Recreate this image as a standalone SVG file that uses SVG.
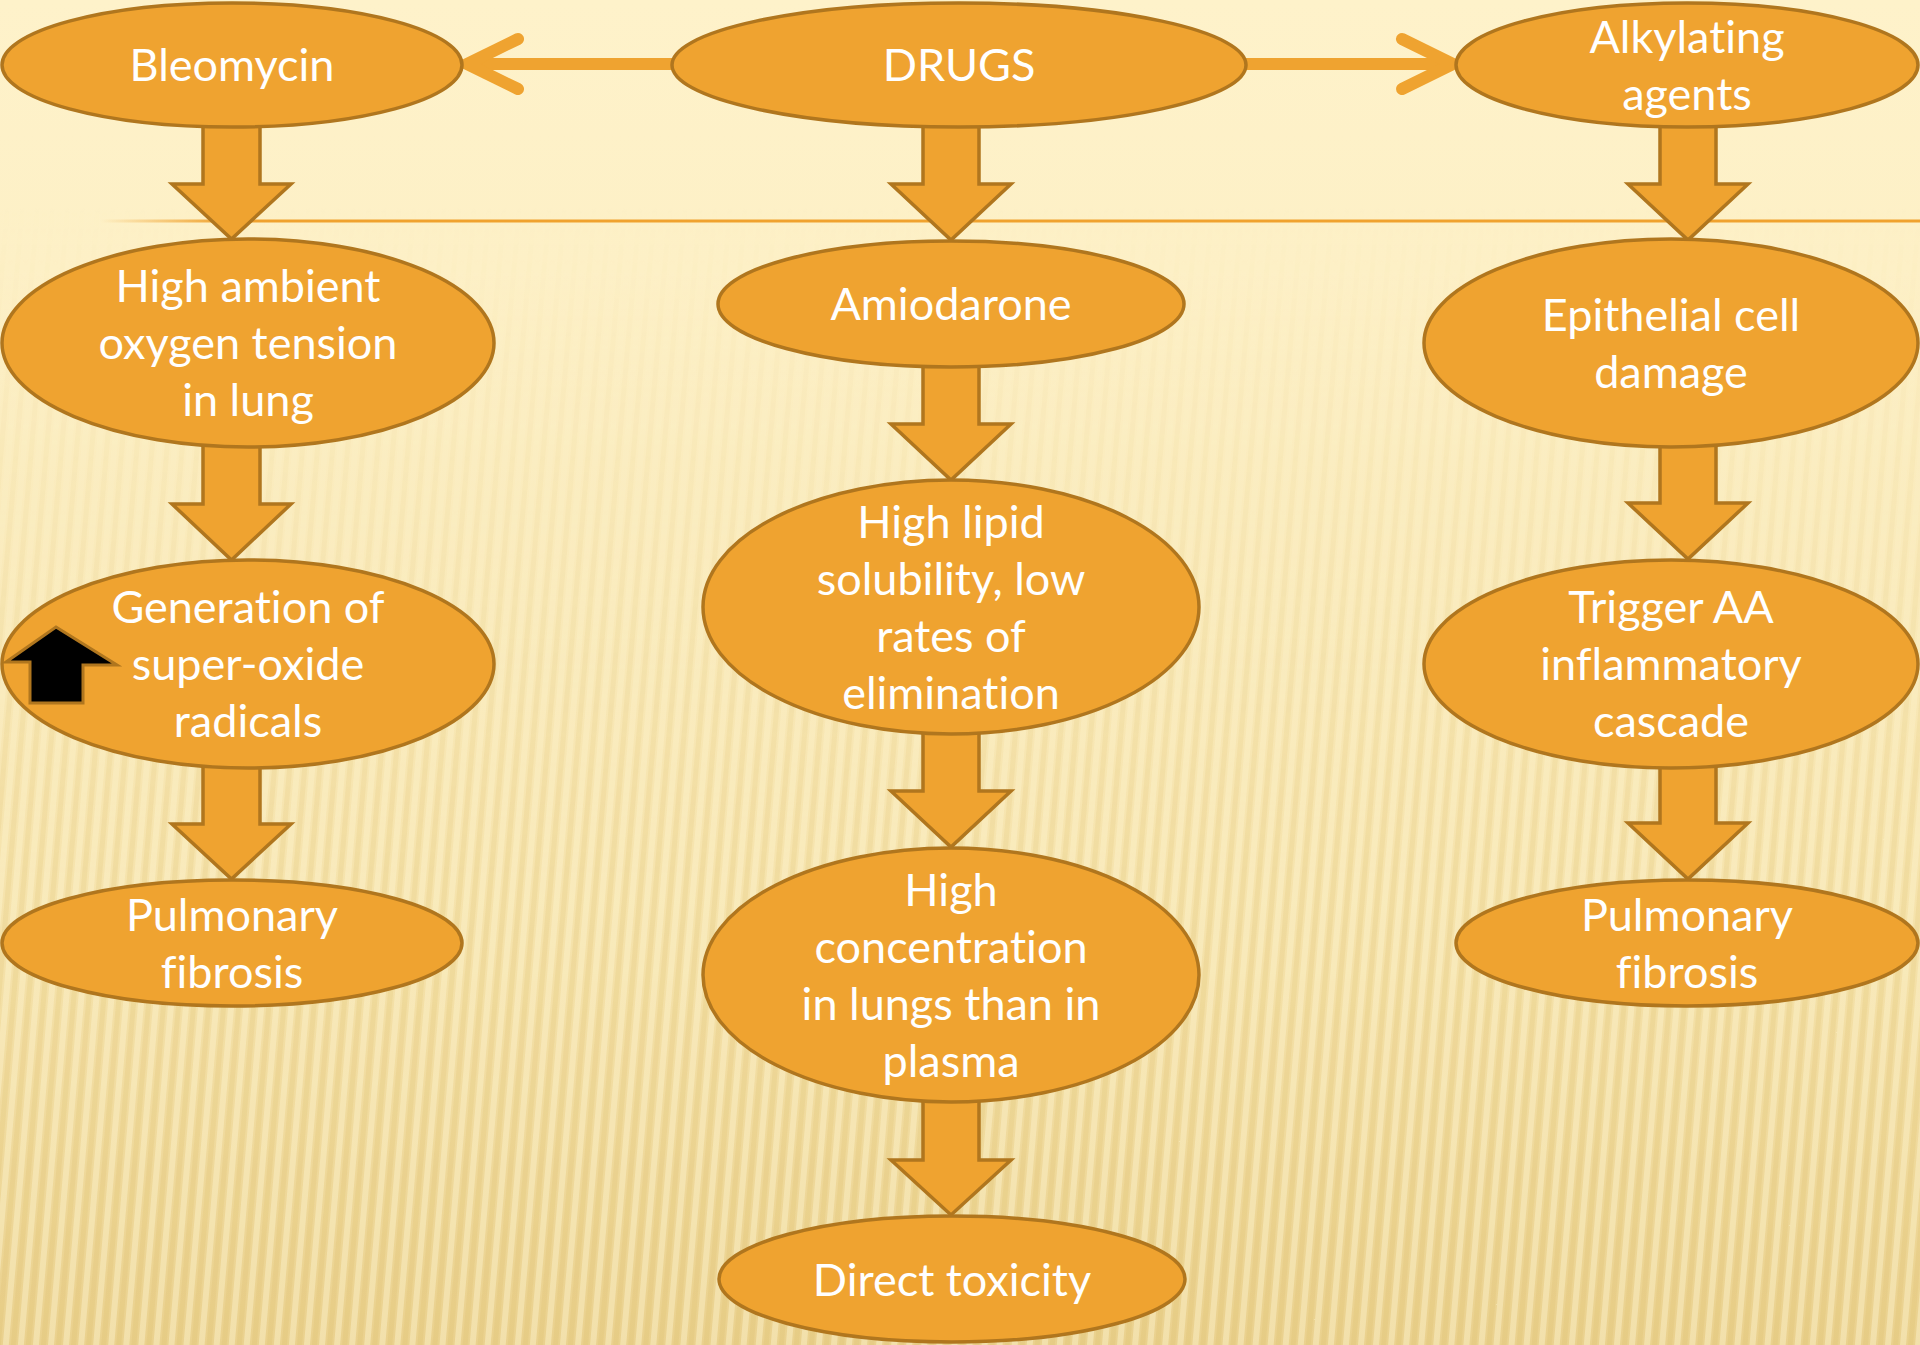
<svg xmlns="http://www.w3.org/2000/svg" width="1920" height="1345" viewBox="0 0 1920 1345">
<defs>
<style>
.node ellipse{fill:#EFA330;stroke:#B0761E;stroke-width:3.5}
.node text{fill:#FFFFFF;font-family:Lato,"Open Sans","Liberation Sans",sans-serif;font-size:45px;text-anchor:middle;font-variant-ligatures:none;font-feature-settings:"liga" 0,"clig" 0}
.down{fill:#EFA330;stroke:#B0761E;stroke-width:3.5;stroke-linejoin:miter}
.hline{stroke:#EFA330;stroke-width:12;fill:none}
.chev{stroke:#EFA330;stroke-width:12;fill:none;stroke-linecap:round;stroke-linejoin:miter}
</style>
<linearGradient id="bg" x1="0" y1="0" x2="0" y2="1">
<stop offset="0" stop-color="#FEF2CA"/>
<stop offset="0.2" stop-color="#FDF0C6"/>
<stop offset="0.7" stop-color="#F5E2AA"/>
<stop offset="1" stop-color="#EAD18E"/>
</linearGradient>
<linearGradient id="fadeMask" x1="0" y1="0" x2="0" y2="1">
<stop offset="0.15" stop-color="#000"/>
<stop offset="0.35" stop-color="#555"/>
<stop offset="0.65" stop-color="#ddd"/>
<stop offset="1" stop-color="#fff"/>
</linearGradient>
<mask id="m">
<rect x="0" y="0" width="1920" height="1345" fill="url(#fadeMask)"/>
</mask>
<pattern id="stripes" width="15" height="40" patternUnits="userSpaceOnUse" patternTransform="rotate(5)">
<rect x="0" y="0" width="6" height="40" fill="#FFF7D8" opacity="0.4"/>
<rect x="8" y="0" width="5" height="40" fill="#D8B660" opacity="0.18"/>
</pattern>
<linearGradient id="lineGrad" gradientUnits="userSpaceOnUse" x1="100" y1="0" x2="1920" y2="0">
<stop offset="0" stop-color="#F0A22E" stop-opacity="0"/>
<stop offset="0.07" stop-color="#F0A22E" stop-opacity="1"/>
<stop offset="1" stop-color="#F0A22E" stop-opacity="1"/>
</linearGradient>
</defs>
<rect x="0" y="0" width="1920" height="1345" fill="url(#bg)"/>
<rect x="0" y="0" width="1920" height="1345" fill="url(#stripes)" mask="url(#m)"/>
<rect x="100" y="219.5" width="1820" height="3" fill="url(#lineGrad)"/>

<g id="connectors">
<line class="hline" x1="675" y1="64" x2="472" y2="64"/>
<path class="chev" d="M518,39 L467,64 L518,89"/>
<line class="hline" x1="1244" y1="64" x2="1448" y2="64"/>
<path class="chev" d="M1402,39 L1453,64 L1402,89"/>
<path class="down" d="M203,122 L260,122 L260,184 L291,184 L231.5,239 L172,184 L203,184 Z"/>
<path class="down" d="M203,442 L260,442 L260,504 L291,504 L231.5,560 L172,504 L203,504 Z"/>
<path class="down" d="M203,763 L260,763 L260,824 L291,824 L231.5,879 L172,824 L203,824 Z"/>
<path class="down" d="M923,122 L979,122 L979,184 L1011,184 L951,240 L891,184 L923,184 Z"/>
<path class="down" d="M923,362 L979,362 L979,424 L1011,424 L951,480 L891,424 L923,424 Z"/>
<path class="down" d="M923,730 L979,730 L979,791 L1011,791 L951,847 L891,791 L923,791 Z"/>
<path class="down" d="M923,1097 L979,1097 L979,1160 L1011,1160 L951,1215 L891,1160 L923,1160 Z"/>
<path class="down" d="M1660,122 L1716,122 L1716,184 L1748,184 L1688,240 L1628,184 L1660,184 Z"/>
<path class="down" d="M1660,442 L1716,442 L1716,503 L1748,503 L1688,559 L1628,503 L1660,503 Z"/>
<path class="down" d="M1660,763 L1716,763 L1716,823 L1748,823 L1688,879 L1628,823 L1660,823 Z"/>
</g>

<g id="bleomycin" class="node">
<ellipse cx="232" cy="65" rx="230" ry="62"/>
<text x="232" y="81">Bleomycin</text>
</g>
<g id="drugs" class="node">
<ellipse cx="959" cy="65" rx="287" ry="62"/>
<text x="959" y="81">DRUGS</text>
</g>
<g id="alkylating" class="node">
<ellipse cx="1687" cy="65" rx="231" ry="62"/>
<text x="1687" y="53">Alkylating</text>
<text x="1687" y="110">agents</text>
</g>
<g id="high-ambient" class="node">
<ellipse cx="248" cy="343" rx="246" ry="104"/>
<text x="248" y="302">High ambient</text>
<text x="248" y="359">oxygen tension</text>
<text x="248" y="416">in lung</text>
</g>
<g id="amiodarone" class="node">
<ellipse cx="951" cy="304" rx="233" ry="63"/>
<text x="951" y="320">Amiodarone</text>
</g>
<g id="epithelial" class="node">
<ellipse cx="1671" cy="343" rx="247" ry="104"/>
<text x="1671" y="331">Epithelial cell</text>
<text x="1671" y="388">damage</text>
</g>
<g id="generation" class="node">
<ellipse cx="248" cy="664" rx="246" ry="104"/>
<text x="248" y="623">Generation of</text>
<text x="248" y="680">super-oxide</text>
<text x="248" y="737">radicals</text>
<path d="M56,627 L117,665 L83,665 L83,703 L30,703 L30,662 L6,662 Z" fill="#000000" stroke="#B0761E" stroke-width="3"/>
</g>
<g id="high-lipid" class="node">
<ellipse cx="951" cy="607" rx="248" ry="127"/>
<text x="951" y="538">High lipid</text>
<text x="951" y="595">solubility, low</text>
<text x="951" y="652">rates of</text>
<text x="951" y="709">elimination</text>
</g>
<g id="trigger" class="node">
<ellipse cx="1671" cy="664" rx="247" ry="104"/>
<text x="1671" y="623">Trigger AA</text>
<text x="1671" y="680">inflammatory</text>
<text x="1671" y="737">cascade</text>
</g>
<g id="fibrosis-left" class="node">
<ellipse cx="232" cy="943" rx="230" ry="63"/>
<text x="232" y="931">Pulmonary</text>
<text x="232" y="988">fibrosis</text>
</g>
<g id="high-concentration" class="node">
<ellipse cx="951" cy="975" rx="248" ry="127"/>
<text x="951" y="906">High</text>
<text x="951" y="963">concentration</text>
<text x="951" y="1020">in lungs than in</text>
<text x="951" y="1077">plasma</text>
</g>
<g id="fibrosis-right" class="node">
<ellipse cx="1687" cy="943" rx="231" ry="63"/>
<text x="1687" y="931">Pulmonary</text>
<text x="1687" y="988">fibrosis</text>
</g>
<g id="direct-toxicity" class="node">
<ellipse cx="952" cy="1279" rx="233" ry="63"/>
<text x="952" y="1296">Direct toxicity</text>
</g>
</svg>
